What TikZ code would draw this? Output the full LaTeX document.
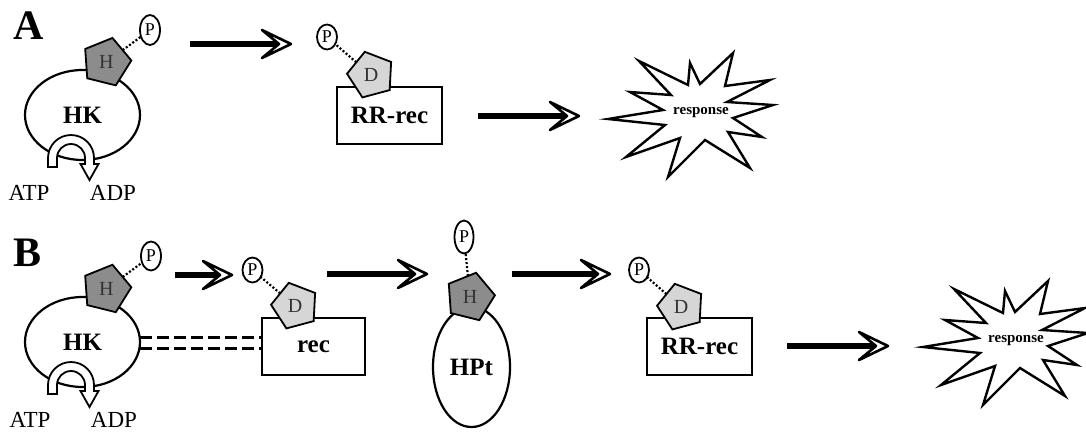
\documentclass[tikz,border=0pt]{standalone}
\usepackage{fontspec}
\setmainfont{Liberation Serif}
\usetikzlibrary{shapes.geometric}
\newcommand{\setfs}[1]{\fontsize{#1}{#1}\selectfont}
\definecolor{hisgray}{HTML}{8C8C8C}
\definecolor{aspgray}{HTML}{D6D6D6}
\definecolor{lettergray}{HTML}{333333}

\tikzset{
  % hollow U-turn arrow (ATP -> ADP), drawn around the centre of its arc
  pics/uturn/.style={code={
    \draw[line width=1.8pt, fill=white]
      (-23,9) -- (-23,0) arc[start angle=180, end angle=360, radius=23]
      -- (23,6) -- (27.5,6) -- (18.5,22) -- (9.5,6) -- (14,6)
      -- (14,0) arc[start angle=360, end angle=180, radius=14]
      -- (-14,9) -- cycle;
  }},
  % starburst outline around the "response" label
  pics/burst/.style={code={
    \draw[line width=2.4pt, fill=white]
      (-93,6) -- (-38,-3) -- (-71,-21) -- (-30,-18) -- (-62,-52) -- (-13,-28)
      -- (-11,-50) -- (-1,-29) -- (32,-60) -- (24,-27) -- (69,-33) -- (26,-11)
      -- (72,-8) -- (32,5) -- (61,24) -- (27,19) -- (49,55) -- (4,27)
      -- (-33,64) -- (-21,25) -- (-75,44) -- (-36,12) -- cycle;
  }},
  flowshaft/.style={line width=5.5pt},
  flowhead/.style={line width=2.6pt, fill=white, line join=round},
}

% thick arrow with an open, notched head from #1 to the tip #2
\newcommand{\flowarrow}[2]{%
  \draw[flowshaft] (#1) -- ([xshift=-12pt]#2);
  \draw[flowhead] (#2) -- ([xshift=-29pt,yshift=14pt]#2) -- ([xshift=-12pt]#2)
    -- ([xshift=-29pt,yshift=-14pt]#2) -- cycle;}

\begin{document}
\begin{tikzpicture}[x=1pt, y=-1pt,
  every node/.style={inner sep=0pt, outer sep=0pt},
  panel/.style={font=\setfs{42}\bfseries},
  protbody/.style={ellipse, draw, line width=2.2pt, fill=white, font=\setfs{25}\bfseries},
  phos/.style={ellipse, draw, fill=white, line width=1.8pt, minimum width=20pt, font=\setfs{18}},
  hispent/.style={regular polygon, regular polygon sides=5, draw, line width=1.8pt,
    fill=hisgray, minimum size=50pt, shape border rotate=-14, text=lettergray, font=\setfs{20}},
  asppent/.style={regular polygon, regular polygon sides=5, draw, line width=1.8pt,
    fill=aspgray, minimum size=48pt, shape border rotate=15, text=lettergray, font=\setfs{20}},
  recbox/.style={rectangle, draw, line width=2.2pt, fill=white, minimum width=105pt,
    minimum height=57pt, font=\setfs{25}\bfseries},
  nuc/.style={font=\setfs{23}},
  resp/.style={font=\setfs{15}\bfseries},
  tether/.style={line width=2.2pt, dash pattern=on 2pt off 2pt},
  link/.style={line width=2.8pt, dash pattern=on 12pt off 5pt},
]
\useasboundingbox (0,0) rectangle (1086,432);

% ---------------- panel A ----------------
\node[panel] (labA) at (29,26) {A};

\node[protbody, minimum width=115pt, minimum height=90pt] (hkA) at (82.5,115) {HK};
\pic (utA) at (71,158) {uturn};
\node[nuc] (atpA) at (29,193) {ATP};
\node[nuc] (adpA) at (113,193) {ADP};
\node[hispent] (hA) at (106.4,62.2) {H};
\node[phos, minimum height=30pt] (pA) at (150,30) {P};
\draw[tether] (hA) -- (pA);

\coordinate (a1s) at (190,44);
\coordinate (a1e) at (291,44);
\flowarrow{a1s}{a1e}

\node[recbox] (rrA) at (389.5,115.5) {RR-rec};
\node[asppent] (dA) at (371,75) {D};
\node[phos, minimum height=25pt] (pdA) at (327,37) {P};
\draw[tether] (dA) -- (pdA);

\coordinate (a2s) at (478,116);
\coordinate (a2e) at (579,116);
\flowarrow{a2s}{a2e}

\pic (burstA) at (701,113) {burst};
\node[resp] (respA) at (701,113) {response};

% ---------------- panel B ----------------
\node[panel] (labB) at (28,253) {B};

\node[protbody, minimum width=115pt, minimum height=90pt] (hkB) at (82.5,342) {HK};
\pic (utB) at (71,385) {uturn};
\node[nuc] (atpB) at (30,420) {ATP};
\node[nuc] (adpB) at (114,420) {ADP};
\node[hispent] (hB) at (106.4,289) {H};
\node[phos, minimum height=29pt] (pB) at (151,256) {P};
\draw[tether] (hB) -- (pB);

\coordinate (b1s) at (175,275);
\coordinate (b1e) at (232,275);
\flowarrow{b1s}{b1e}

\node[recbox, minimum width=103pt] (recB) at (313.5,346.5) {rec};
\node[asppent] (dB) at (295,306) {D};
\node[phos, minimum height=25pt] (pdB) at (252.5,270) {P};
\draw[tether] (dB) -- (pdB);

% double dashed contact between HK and rec
\path ([yshift=4.5pt]hkB.east) coordinate (l1s) ([yshift=-6.5pt]hkB.east) coordinate (l2s);
\draw[link] (l1s) -- (l1s -| recB.west);
\draw[link] (l2s) -- (l2s -| recB.west);

\coordinate (b2s) at (327,274);
\coordinate (b2e) at (427,274);
\flowarrow{b2s}{b2e}

\node[protbody, minimum width=77pt, minimum height=120pt] (hpt) at (471.5,367) {HPt};
\node[hispent] (hH) at (470,297) {H};
\node[phos, minimum width=19pt, minimum height=33pt] (pH) at (464,237) {P};
\draw[tether] (hH) -- (pH);

\coordinate (b3s) at (512,274);
\coordinate (b3e) at (610,274);
\flowarrow{b3s}{b3e}

\node[recbox] (rrB) at (699.5,346.5) {RR-rec};
\node[asppent] (dB2) at (681,307) {D};
\node[phos, minimum height=25pt] (pdB2) at (639,270) {P};
\draw[tether] (dB2) -- (pdB2);

\coordinate (b4s) at (787,346);
\coordinate (b4e) at (888,346);
\flowarrow{b4s}{b4e}

\pic (burstB) at (1016,341) {burst};
\node[resp] (respB) at (1016,341) {response};
\end{tikzpicture}
\end{document}
